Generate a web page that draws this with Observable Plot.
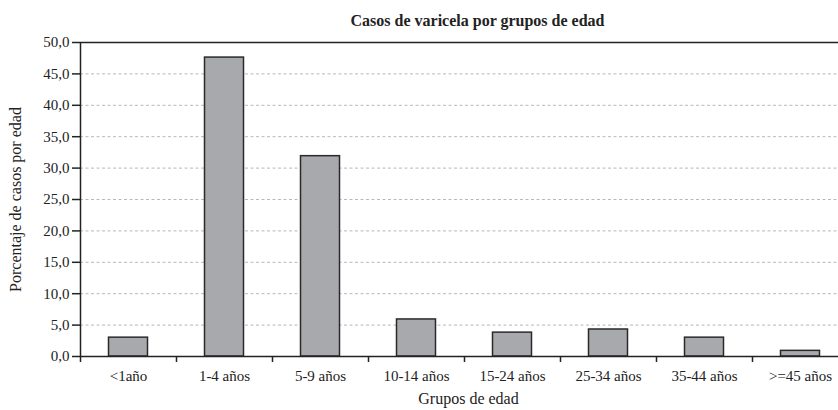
<!DOCTYPE html>
<html>
<head>
<meta charset="utf-8">
<script src="https://cdn.jsdelivr.net/npm/d3@7"></script>
<script src="https://cdn.jsdelivr.net/npm/@observablehq/plot@0.6"></script>
<style>
  html, body { margin: 0; padding: 0; background: #fff; overflow: hidden; }
  #chart svg { overflow: hidden; }
  #chart svg text { font-family: "Liberation Serif", "Times New Roman", serif; }
</style>
</head>
<body>
<div id="chart"></div>
<script>
const title = "Casos de varicela por grupos de edad";
const xTitle = "Grupos de edad";
const yTitle = "Porcentaje de casos por edad";
const categories = ["<1año", "1-4 años", "5-9 años", "10-14 años", "15-24 años", "25-34 años", "35-44 años", ">=45 años"];
const values = [3.0, 47.6, 31.9, 5.9, 3.8, 4.3, 3.0, 0.9];
const yTicks = [0, 5, 10, 15, 20, 25, 30, 35, 40, 45, 50];
const gridTicks = [5, 10, 15, 20, 25, 30, 35, 40, 45];

const data = categories.map((c, i) => ({c, i, v: values[i]}));
const font = "'Liberation Serif', 'Times New Roman', serif";
const ink = "#222";
const fmt = d => d.toFixed(1).replace(".", ",");

const chart = Plot.plot({
  width: 838,
  height: 410,
  marginLeft: 80,
  marginRight: 0,
  marginTop: 42,
  marginBottom: 54,
  style: {fontFamily: font, color: ink, background: "#fff"},
  x: {type: "linear", domain: [0, categories.length], range: [80, 848]},
  y: {domain: [0, 50]},
  marks: [
    Plot.ruleY(gridTicks, {stroke: "#b8b8b8", strokeWidth: 1, strokeDasharray: "3,2.5"}),
    Plot.ruleY([50], {stroke: ink, strokeWidth: 1.5}),
    Plot.rectY(data, {
      x1: d => d.i, x2: d => d.i + 1, y1: 0, y2: "v",
      insetLeft: 28.5, insetRight: 28.5,
      fill: "#a8a9ac", stroke: "#2a2a2a", strokeWidth: 1.5
    }),
    Plot.ruleY([0], {stroke: ink, strokeWidth: 1.5}),
    Plot.ruleX([0], {y1: 0, y2: 50, stroke: ink, strokeWidth: 1.5}),
    Plot.axisY({ticks: yTicks, tickSize: 8, tickPadding: 3, tickFormat: fmt, fontSize: 15, fontFamily: font, fontVariant: "normal", stroke: ink, strokeWidth: 1.5, label: null, fill: ink}),
    Plot.axisX({ticks: d3.range(0, categories.length), tickSize: 6, tickFormat: () => "", stroke: ink, strokeWidth: 1.5, label: null}),
    Plot.axisX({ticks: d3.range(0, categories.length).map(i => i + 0.5), tickSize: 0, tickPadding: 14, tickFormat: v => categories[Math.floor(v)], fontSize: 15, fontFamily: font, fontVariant: "normal", fill: ink, label: null}),
    Plot.text([title], {frameAnchor: "top", dx: 18, dy: -28, fontSize: 16, fontWeight: "bold", fontFamily: font, fill: ink, text: d => d}),
    Plot.text([xTitle], {frameAnchor: "bottom", dx: 9, dy: 47, fontSize: 16, fontFamily: font, fill: ink, text: d => d}),
    Plot.text([yTitle], {frameAnchor: "left", textAnchor: "middle", dx: -65, rotate: -90, fontSize: 16, fontFamily: font, fill: ink, text: d => d})
  ]
});
document.getElementById("chart").appendChild(chart);
</script>
</body>
</html>
